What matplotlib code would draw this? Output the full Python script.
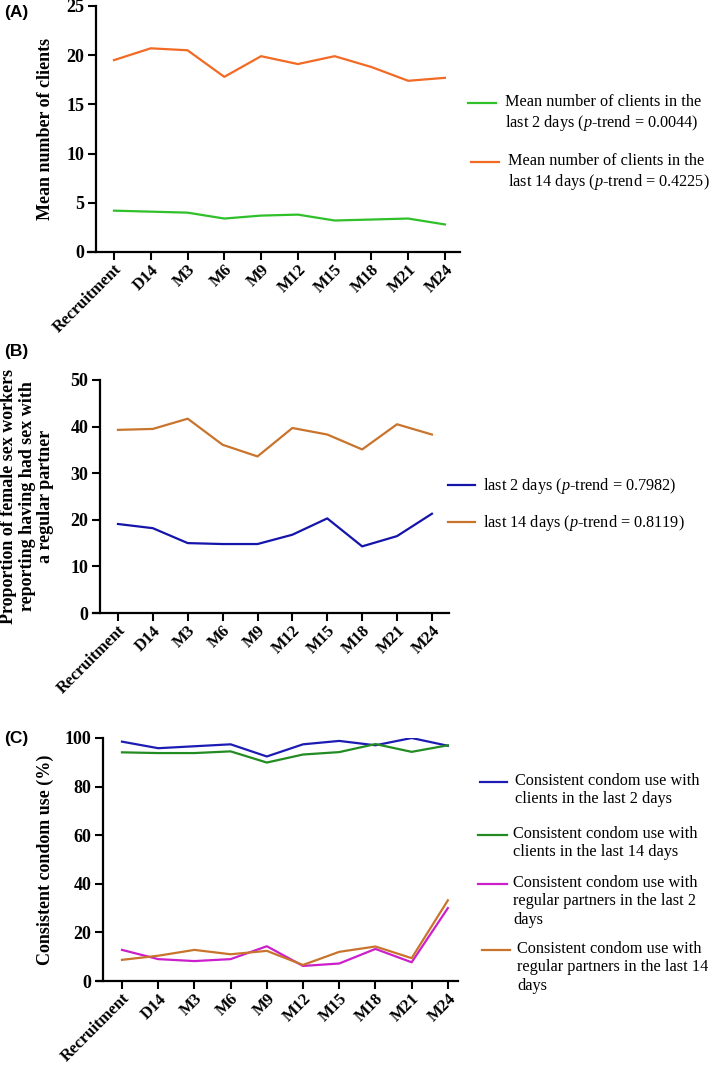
import matplotlib
matplotlib.use("Agg")
import matplotlib.pyplot as plt
from matplotlib.lines import Line2D
from matplotlib.transforms import blended_transform_factory

plt.rcParams["font.family"] = ["Liberation Serif", "DejaVu Serif"]
plt.rcParams["mathtext.fontset"] = "custom"
plt.rcParams["mathtext.rm"] = "Liberation Serif"
plt.rcParams["mathtext.it"] = "Liberation Serif:italic"

# -----------------------------
# Data
# -----------------------------
visits = ["Recruitment", "D14", "M3", "M6", "M9", "M12", "M15", "M18", "M21", "M24"]

clients_2d = [4.2, 4.1, 4.0, 3.4, 3.7, 3.8, 3.2, 3.3, 3.4, 2.8]
clients_14d = [19.5, 20.7, 20.5, 17.8, 19.9, 19.1, 19.9, 18.8, 17.4, 17.7]

regular_2d = [19.1, 18.2, 15.0, 14.8, 14.8, 16.8, 20.3, 14.3, 16.5, 21.3]
regular_14d = [39.3, 39.5, 41.7, 36.1, 33.6, 39.7, 38.3, 35.1, 40.5, 38.3]

condom_clients_2d = [98.5, 95.8, 96.6, 97.4, 92.4, 97.4, 98.8, 97.0, 100.0, 96.8]
condom_clients_14d = [94.1, 93.8, 93.8, 94.5, 89.9, 93.2, 94.2, 97.5, 94.3, 97.0]
condom_regular_2d = [12.8, 9.0, 8.2, 9.0, 14.3, 6.2, 7.2, 13.2, 7.7, 30.0]
condom_regular_14d = [8.7, 10.4, 12.8, 11.0, 12.4, 6.6, 12.0, 14.2, 9.4, 33.2]

W, H = 709, 1065
fig = plt.figure(figsize=(W / 100, H / 100), dpi=100)


def px_axes(left, right, top, bottom):
    return fig.add_axes([left / W, 1 - bottom / H, (right - left) / W, (bottom - top) / H])


def style(ax, xlim, spine_x, ylim, yticks, ylabel):
    # spine position first: it resets the ticks
    ax.spines["left"].set_position(("data", spine_x))
    ax.spines["top"].set_visible(False)
    ax.spines["right"].set_visible(False)
    ax.spines["left"].set_linewidth(1.6)
    ax.spines["bottom"].set_linewidth(1.6)
    ax.set_xlim(*xlim)
    ax.set_ylim(*ylim)
    ax.set_yticks(yticks, labels=[str(v) for v in yticks],
                  fontweight="bold", fontsize=13)
    ax.set_xticks(range(len(visits)), labels=visits, rotation=45, ha="right",
                  rotation_mode="anchor", fontweight="bold", fontsize=12)
    ax.tick_params(direction="out", length=5.5, width=1.5, pad=3)
    ax.tick_params(axis="x", pad=1.5)
    ax.set_ylabel(ylabel, fontsize=13, fontweight="bold", linespacing=1.1)
    ax.yaxis.set_label_coords(54 / W, 0.5,
                              transform=blended_transform_factory(fig.transFigure, ax.transAxes))
    ax.set_facecolor("none")


def legend_entry(x0, x1, y, tx, text, color):
    fig.add_artist(Line2D([x0 / W, x1 / W], [1 - y / H, 1 - y / H],
                          color=color, lw=1.6, transform=fig.transFigure))
    fig.text(tx / W, 1 - (y - 9) / H, text, fontsize=11.7, va="top", ha="left",
             linespacing=1.2)


# -----------------------------
# (A) Mean number of clients
# -----------------------------
ax1 = px_axes(87.5, 460, 6, 252)
ax1.plot(range(len(visits)), clients_2d, color="#2fc02a", lw=1.6)
ax1.plot(range(len(visits)), clients_14d, color="#f26a24", lw=1.6)
style(ax1, (-0.72, 9.41), -0.49, (0, 25), [0, 5, 10, 15, 20, 25],
      "Mean number of clients")

legend_entry(468, 496, 103, 505,
             "Mean number of clients in the\nlast 2 days ($p$-trend = 0.0044)", "#2fc02a")
legend_entry(471, 499, 162, 508,
             "Mean number of clients in the\nlast 14 days ($p$-trend = 0.4225)", "#f26a24")

# -----------------------------
# (B) Sex with a regular partner
# -----------------------------
ax2 = px_axes(93, 449, 380, 613)
ax2.plot(range(len(visits)), regular_2d, color="#1414aa", lw=1.6)
ax2.plot(range(len(visits)), regular_14d, color="#c8742c", lw=1.6)
style(ax2, (-0.716, 9.49), -0.516, (0, 50), [0, 10, 20, 30, 40, 50],
      "Proportion of female sex workers\nreporting having had sex with\na regular partner")

legend_entry(448, 475, 485, 483, "last 2 days ($p$-trend = 0.7982)", "#1414aa")
legend_entry(448, 475, 522, 483, "last 14 days ($p$-trend = 0.8119)", "#c8742c")

# -----------------------------
# (C) Consistent condom use
# -----------------------------
ax3 = px_axes(97, 458, 738, 981)
ax3.plot(range(len(visits)), condom_clients_2d, color="#1c1cb4", lw=1.6)
ax3.plot(range(len(visits)), condom_clients_14d, color="#228b22", lw=1.6)
ax3.plot(range(len(visits)), condom_regular_2d, color="#cc1fcc", lw=1.6)
ax3.plot(range(len(visits)), condom_regular_14d, color="#c8742c", lw=1.6)
style(ax3, (-0.69, 9.28), -0.525, (0, 100), [0, 20, 40, 60, 80, 100],
      "Consistent condom use (%)")

legend_entry(480, 507, 782, 515,
             "Consistent condom use with\nclients in the last 2 days", "#1c1cb4")
legend_entry(478, 507, 835, 513,
             "Consistent condom use with\nclients in the last 14 days", "#228b22")
legend_entry(478, 507, 884, 513,
             "Consistent condom use with\nregular partners in the last 2\ndays", "#cc1fcc")
legend_entry(482, 510, 950, 517,
             "Consistent condom use with\nregular partners in the last 14\ndays", "#c8742c")

# panel letters
for letter, y in [("(A)", 12), ("(B)", 352), ("(C)", 738)]:
    fig.text(4 / W, 1 - y / H, letter, fontsize=12.5, fontweight="bold",
             family=["Liberation Sans", "DejaVu Sans"], va="center", ha="left")

fig.savefig("out.png", dpi=100)
